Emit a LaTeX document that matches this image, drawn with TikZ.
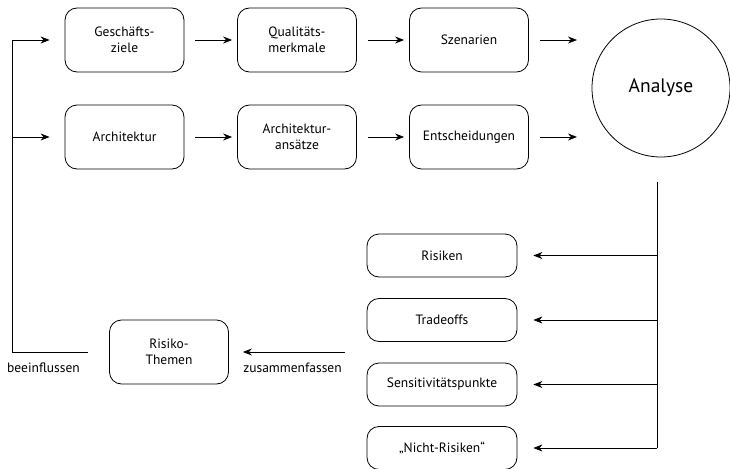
\documentclass[tikz,border=0pt]{standalone}
\usepackage{fontspec}
\setmainfont{PT Sans}
\usetikzlibrary{arrows.meta}
\begin{document}
\begin{tikzpicture}[x=1pt,y=-1pt,
  box/.style={draw,line width=0.8pt,rounded corners=12pt,align=center,font=\fontsize{13.5}{16}\selectfont,inner sep=0pt},
  tbox/.style={box,minimum width=119pt,minimum height=64pt},
  rbox/.style={box,minimum width=150pt,minimum height=43pt},
  conn/.style={line width=0.8pt},
  arr/.style={conn,-{Stealth[length=9pt,width=7pt]}},
  lbl/.style={font=\fontsize{13.5}{16}\selectfont,inner sep=0pt}]
\useasboundingbox (0,0) rectangle (730,468);
\node[tbox] (g) at (124.5,40) {Geschäfts-\\ziele};
\node[tbox] (q) at (297,40) {Qualitäts-\\merkmale};
\node[tbox] (s) at (469,40) {Szenarien};
\node[tbox] (a) at (124.5,137) {Architektur};
\node[tbox] (aa) at (297,137) {Architektur-\\ansätze};
\node[tbox] (e) at (469,137) {Entscheidungen};
\node[draw,circle,line width=0.8pt,minimum size=138pt,inner sep=0pt,font=\fontsize{19.5}{22}\selectfont] (an) at (661,88) {Analyse};
\node[rbox] (r1) at (442,255.5) {Risiken};
\node[rbox] (r2) at (442,320) {Tradeoffs};
\node[rbox] (r3) at (442,384.5) {Sensitivitätspunkte};
\node[rbox] (r4) at (442,448) {„Nicht-Risiken“};
\node[tbox] (rt) at (169,352) {Risiko-\\Themen};
\node[lbl] (bl) at (43.5,368) {beeinflussen};
\node[lbl] (zl) at (292.5,368) {zusammenfassen};
% top rows
\draw[arr] ([xshift=11pt]g.east) -- ([xshift=-5pt]q.west);
\draw[arr] ([xshift=11pt]q.east) -- ([xshift=-5pt]s.west);
\draw[arr] ([xshift=11pt]s.east) -- (577,40);
\draw[arr] ([xshift=11pt]a.east) -- ([xshift=-5pt]aa.west);
\draw[arr] ([xshift=11pt]aa.east) -- ([xshift=-5pt]e.west);
\draw[arr] ([xshift=11pt]e.east) -- (577,137);
% right trunk
\coordinate (t0) at (657,182);
\coordinate (t4) at (657,448);
\draw[conn] (t0) -- (t4);
\foreach \n in {r1,r2,r3,r4}{
  \draw[arr] (t0 |- \n.east) -- ([xshift=16pt]\n.east);
}
% zusammenfassen
\coordinate (z0) at (345,352);
\draw[arr] (z0) -- ([xshift=14pt]rt.east);
% feedback
\coordinate (f0) at (88,352);
\coordinate (fc) at (12,352);
\draw[conn] (f0) -- (fc) -- (fc |- g.west);
\draw[arr] (fc |- g.west) -- ([xshift=-15pt]g.west);
\draw[arr] (fc |- a.west) -- ([xshift=-15pt]a.west);
\end{tikzpicture}
\end{document}
